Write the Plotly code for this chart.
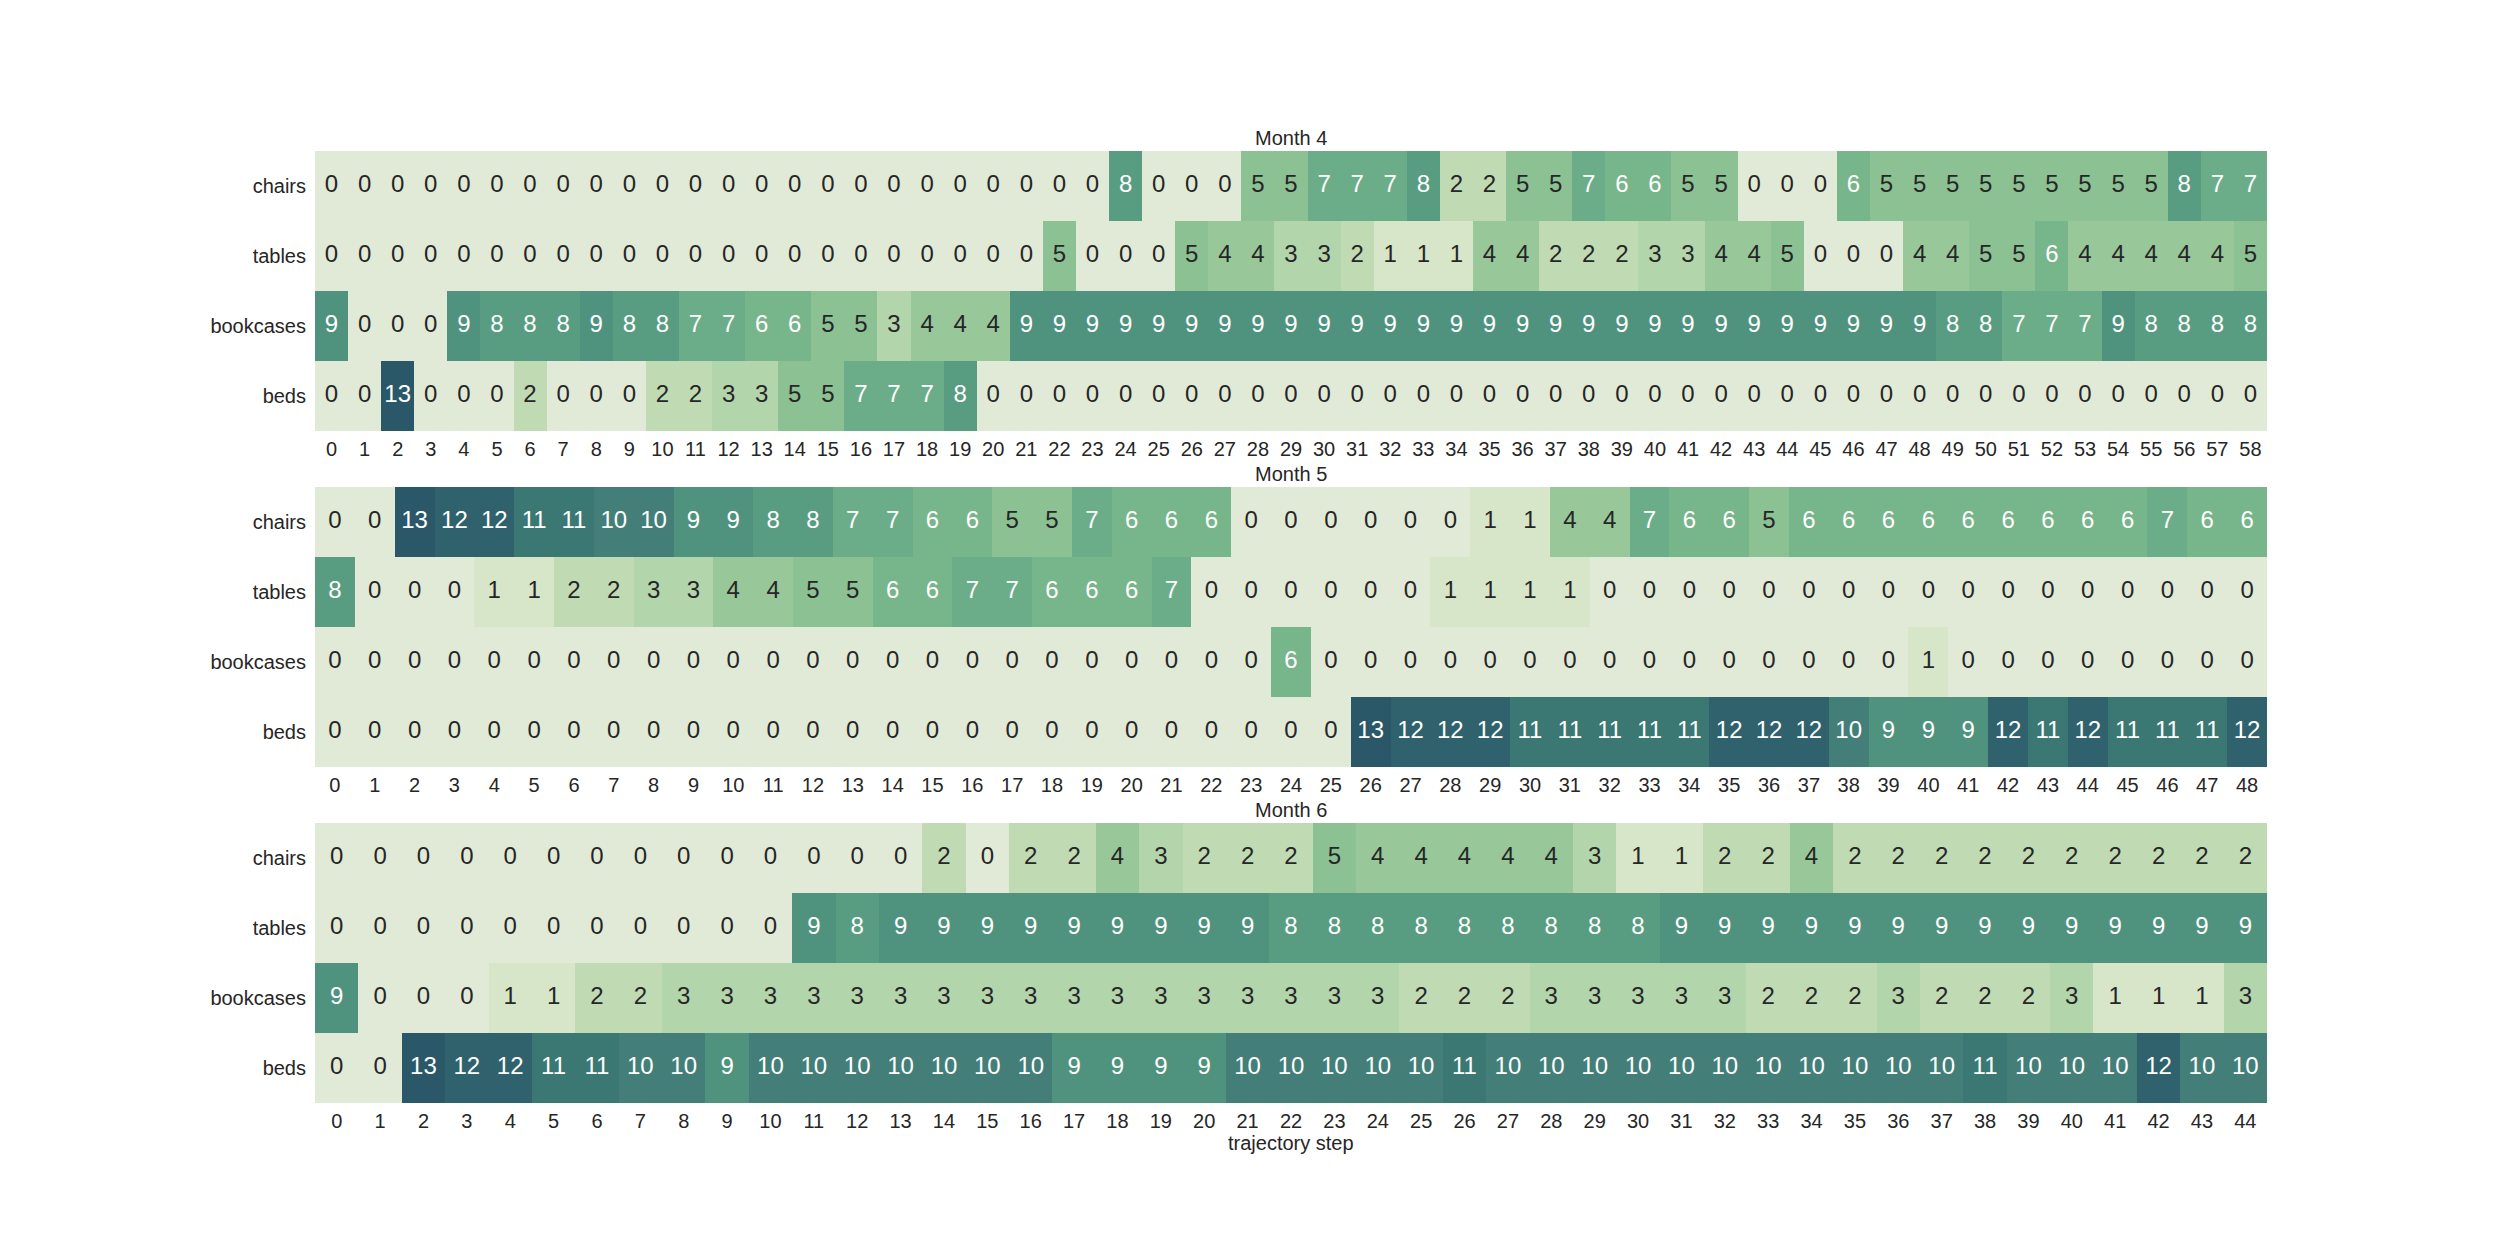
import plotly.graph_objects as go

rows = ["chairs", "tables", "bookcases", "beds"]
titles = ["Month 4", "Month 5", "Month 6"]
xlabel = "trajectory step"

m4_chairs = [0,0,0,0,0,0,0,0,0,0, 0,0,0,0,0,0,0,0,0,0, 0,0,0,0,8,0,0,0,5,5,
             7,7,7,8,2,2,5,5,7,6, 6,5,5,0,0,0,6,5,5,5, 5,5,5,5,5,5,8,7,7]
m4_tables = [0,0,0,0,0,0,0,0,0,0, 0,0,0,0,0,0,0,0,0,0, 0,0,5,0,0,0,5,4,4,3,
             3,2,1,1,1,4,4,2,2,2, 3,3,4,4,5,0,0,0,4,4, 5,5,6,4,4,4,4,4,5]
m4_bookcases = [9,0,0,0,9,8,8,8,9,8, 8,7,7,6,6,5,5,3,4,4, 4,9,9,9,9,9,9,9,9,9,
                9,9,9,9,9,9,9,9,9,9, 9,9,9,9,9,9,9,9,9,8, 8,7,7,7,9,8,8,8,8]
m4_beds = [0,0,13,0,0,0,2,0,0,0, 2,2,3,3,5,5,7,7,7,8, 0,0,0,0,0,0,0,0,0,0,
           0,0,0,0,0,0,0,0,0,0, 0,0,0,0,0,0,0,0,0,0, 0,0,0,0,0,0,0,0,0]

m5_chairs = [0,0,13,12,12,11,11,10,10,9, 9,8,8,7,7,6,6,5,5,7, 6,6,6,0,0,0,0,0,0,1,
             1,4,4,7,6,6,5,6,6,6, 6,6,6,6,6,6,7,6,6]
m5_tables = [8,0,0,0,1,1,2,2,3,3, 4,4,5,5,6,6,7,7,6,6, 6,7,0,0,0,0,0,0,1,1,
             1,1,0,0,0,0,0,0,0,0, 0,0,0,0,0,0,0,0,0]
m5_bookcases = [0,0,0,0,0,0,0,0,0,0, 0,0,0,0,0,0,0,0,0,0, 0,0,0,0,6,0,0,0,0,0,
                0,0,0,0,0,0,0,0,0,0, 1,0,0,0,0,0,0,0,0]
m5_beds = [0,0,0,0,0,0,0,0,0,0, 0,0,0,0,0,0,0,0,0,0, 0,0,0,0,0,0,13,12,12,12,
           11,11,11,11,11,12,12,12,10,9, 9,9,12,11,12,11,11,11,12]

m6_chairs = [0,0,0,0,0,0,0,0,0,0, 0,0,0,0,2,0,2,2,4,3, 2,2,2,5,4,4,4,4,4,3,
             1,1,2,2,4,2,2,2,2,2, 2,2,2,2,2]
m6_tables = [0,0,0,0,0,0,0,0,0,0, 0,9,8,9,9,9,9,9,9,9, 9,9,8,8,8,8,8,8,8,8,
             8,9,9,9,9,9,9,9,9,9, 9,9,9,9,9]
m6_bookcases = [9,0,0,0,1,1,2,2,3,3, 3,3,3,3,3,3,3,3,3,3, 3,3,3,3,3,2,2,2,3,3,
                3,3,3,2,2,2,3,2,2,2, 3,1,1,1,3]
m6_beds = [0,0,13,12,12,11,11,10,10,9, 10,10,10,10,10,10,10,9,9,9, 9,10,10,10,10,10,11,10,10,10,
           10,10,10,10,10,10,10,10,11,10, 10,10,12,10,10]

months = [
    [m4_chairs, m4_tables, m4_bookcases, m4_beds],
    [m5_chairs, m5_tables, m5_bookcases, m5_beds],
    [m6_chairs, m6_tables, m6_bookcases, m6_beds],
]

palette = ["#e1ead6", "#d7e5c8", "#c0dbb4", "#b3d5ab", "#98c89a", "#8cc194", "#77b58a",
           "#6aad88", "#589d82", "#4f937e", "#437f78", "#3b7773", "#2f626c", "#2a5868"]
vmax = 13
colorscale = [[i / vmax, c] for i, c in enumerate(palette)]

W, H = 2520, 1260
x0, x1 = 315 / W, 2267 / W
tops = [151, 487, 823]
height_px = 280
FONT = "Liberation Sans, Arial, sans-serif"
TXT = "#262626"

fig = go.Figure()
layout = dict(
    width=W, height=H, margin=dict(l=0, r=0, t=0, b=0),
    paper_bgcolor="white", plot_bgcolor="white",
    font=dict(family=FONT, size=20, color=TXT),
    showlegend=False, annotations=[],
)

for k, data in enumerate(months):
    n = len(data[0])
    xs = list(range(n))
    sfx = "" if k == 0 else str(k + 1)
    xa, ya = "x" + sfx, "y" + sfx
    fig.add_trace(go.Heatmap(
        z=data, x=xs, y=rows, colorscale=colorscale, zmin=0, zmax=vmax,
        showscale=False, xaxis=xa, yaxis=ya, xgap=0, ygap=0, hoverinfo="skip",
    ))
    tx, ty, tt, tc = [], [], [], []
    for r, row in enumerate(data):
        for i, v in enumerate(row):
            tx.append(i)
            ty.append(rows[r])
            tt.append(str(v))
            tc.append("white" if v >= 6 else TXT)
    fig.add_trace(go.Scatter(
        x=tx, y=ty, text=tt, mode="text", xaxis=xa, yaxis=ya,
        textfont=dict(family=FONT, size=24, color=tc), hoverinfo="skip",
    ))
    top = tops[k]
    bot = top + height_px
    ydom = [1 - bot / H, 1 - top / H]
    layout["xaxis" + sfx] = dict(
        domain=[x0, x1], anchor=ya, range=[-0.5, n - 0.5], tickmode="array",
        tickvals=xs, ticktext=[str(v) for v in xs], showgrid=False, zeroline=False,
        showline=False, ticks="", ticklabelstandoff=4, tickfont=dict(size=20, color=TXT),
    )
    layout["yaxis" + sfx] = dict(
        domain=ydom, anchor=xa, type="category", categoryorder="array",
        categoryarray=rows, range=[3.5, -0.5], showgrid=False, zeroline=False,
        showline=False, ticks="", ticklabelstandoff=8, tickfont=dict(size=20, color=TXT),
    )
    layout["annotations"].append(dict(
        text=titles[k], xref="paper", yref="paper", x=(x0 + x1) / 2, y=ydom[1],
        xanchor="center", yanchor="bottom", showarrow=False, yshift=0,
        font=dict(family=FONT, size=20, color=TXT),
    ))

layout["annotations"].append(dict(
    text=xlabel, xref="paper", yref="paper", x=(x0 + x1) / 2, y=1 - 1143 / H,
    xanchor="center", yanchor="middle", showarrow=False,
    font=dict(family=FONT, size=20, color=TXT),
))

fig.update_layout(**layout)
fig.write_html("out.html")
